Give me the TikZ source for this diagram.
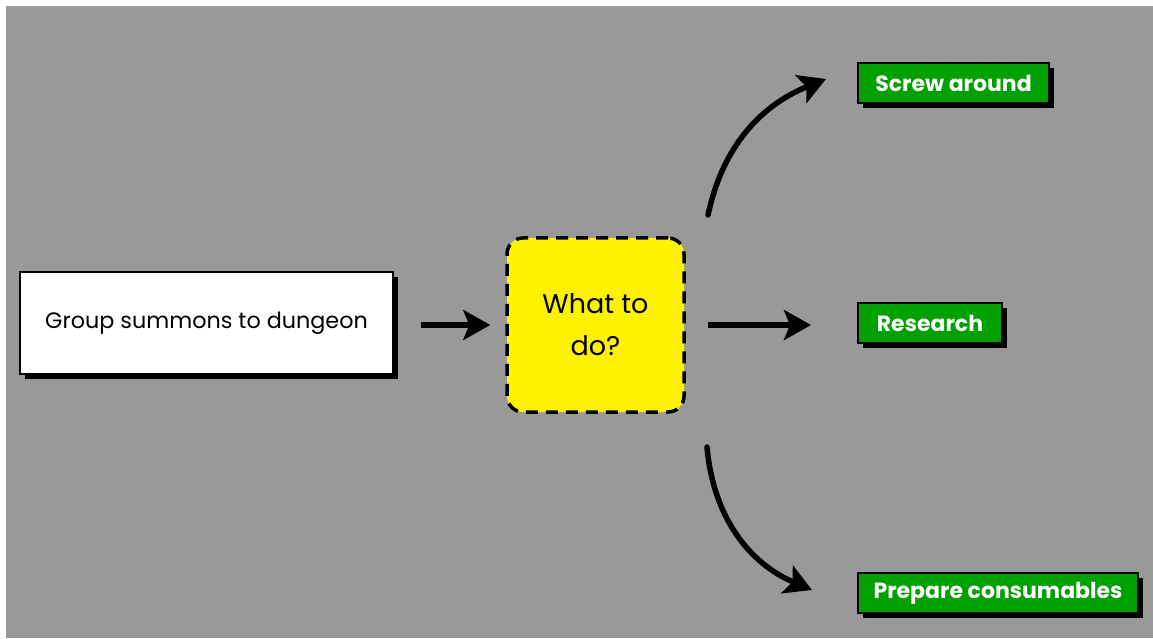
\documentclass[tikz,border=0pt]{standalone}
\usepackage{fontspec}
\setmainfont{Poppins}
\usetikzlibrary{arrows.meta,shadows}
\definecolor{bggray}{RGB}{153,153,153}
\definecolor{boxgreen}{RGB}{0,160,0}
\tikzset{
  shade box/.style={drop shadow={fill=black,opacity=1,shadow xshift=5pt,shadow yshift=-5pt}},
  startbox/.style={draw=black,line width=2.5pt,fill=white,shade box,minimum width=373pt,minimum height=102pt,font=\fontsize{22.3}{26}\selectfont},
  askbox/.style={draw=black,line width=3.5pt,dash pattern=on 12pt off 8pt,fill=yellow,rounded corners=16pt,minimum width=177pt,minimum height=174pt,align=center,font=\fontsize{27}{42}\selectfont},
  choice/.style={draw=black,line width=2pt,fill=boxgreen,shade box,minimum height=40pt,inner xsep=0pt,text=white,font=\bfseries\fontsize{22}{26}\selectfont},
  flow/.style={line width=5.5pt,-{Stealth[length=27pt,width=30pt,inset=6pt]}},
}
\begin{document}
\begin{tikzpicture}[x=1pt,y=1pt]
\useasboundingbox (0,0) rectangle (1153,638);
\fill[white] (0,0) rectangle (1153,638);
\fill[bggray] (6,0) rectangle (1153,632);
% boxes
\node[startbox] (group) at (206.5,315) {Group summons to dungeon};
\node[askbox] (ask) at (595.5,313) {What to\\do?};
\node[choice,minimum width=191pt] (screw) at (953.5,555) {Screw around};
\node[choice,minimum width=144pt] (research) at (930,315) {Research};
\node[choice,minimum width=280pt] (prepare) at (998,45) {Prepare consumables};
% arrows
\coordinate (up0) at (708,423);
\coordinate (up1) at (826,559);
\coordinate (down0) at (707,191);
\coordinate (down1) at (812,48);
\draw[flow,shorten <=27pt,shorten >=15pt] (group.east |- ask.west) -- (ask.west);
\draw[flow,shorten <=22pt,shorten >=46pt] (ask.east) -- (ask.east -| research.west);
\draw[flow,line cap=round] (up0) to[out=78,in=202] (up1);
\draw[flow,line cap=round] (down0) to[out=275,in=157] (down1);
\end{tikzpicture}
\end{document}
